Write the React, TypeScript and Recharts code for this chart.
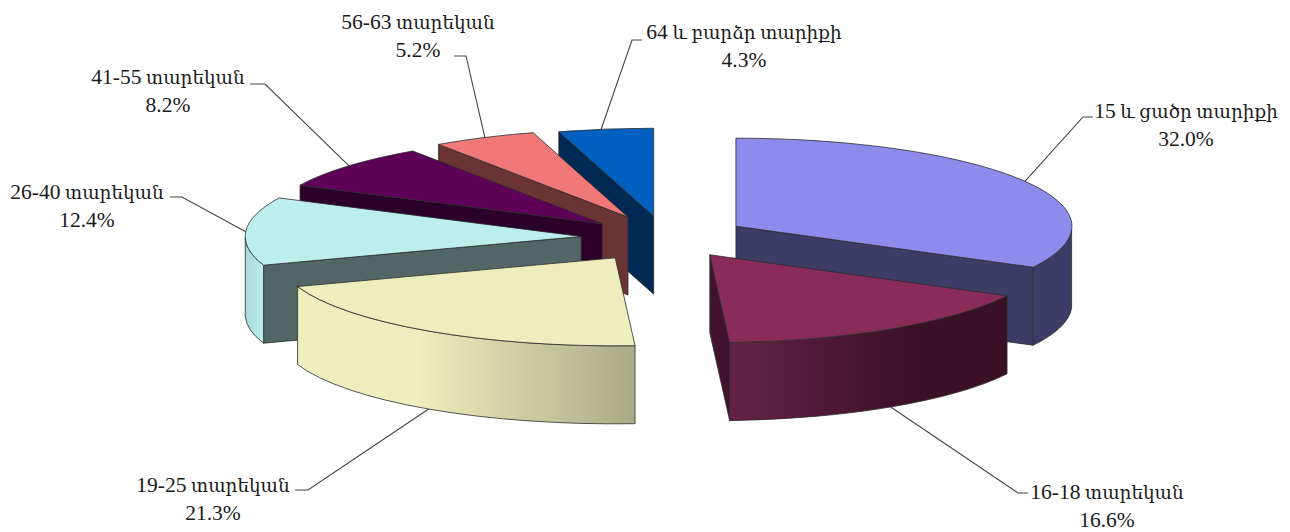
import React from 'react';
import { PieChart, Pie } from 'recharts';

const categories = ['15 և ցածր տարիքի', '16-18 տարեկան', '19-25 տարեկան', '26-40 տարեկան', '41-55 տարեկան', '56-63 տարեկան', '64 և բարձր տարիքի'];
const shares = [32.0, 16.6, 21.3, 12.4, 8.2, 5.2, 4.3];
const explode = [0.25, 0.233, 0.27, 0.25, 0.248, 0.262, 0.25];

const topColors = ['#8d8ced', '#8a2c5a', '#ededbd', '#bceeee', '#5f0058', '#f07878', '#0060c0'];
const sideColors = ['#3c3c66', '#42132c', '#666650', '#526666', '#2b002a', '#6b3434', '#002a54'];
const wallStops = [
  ['#3c3c66', '#3c3c66'],
  ['#652245', '#3a1024'],
  ['#eeeebe', '#aaaa88'],
  ['#a8d8d8', '#bceeee'],
  ['#5f0058', '#5f0058'],
  ['#f07878', '#f07878'],
  ['#0060c0', '#0060c0'],
];

// elbow of the leader, its tail end, text centre, first baseline
const labelLayout = [
  { ex: 1083, ey: 117, tail: 1093, tx: 1186, ty: 118 },
  { ex: 1018, ey: 493, tail: 1028, tx: 1107, ty: 499 },
  { ex: 308, ey: 490, tail: 295, tx: 213, ty: 492 },
  { ex: 182, ey: 197, tail: 170, tx: 87, ty: 199 },
  { ex: 265, ey: 84, tail: 250, tx: 168, ty: 84 },
  { ex: 466, ey: 56, tail: 454, tx: 418, ty: 29 },
  { ex: 632, ey: 40, tail: 642, tx: 744, ty: 39 },
];

const RY = 88;
const DEPTH = 78;
const EDGE = '#2c2c2c';
const FONT = "'Liberation Serif', 'DejaVu Serif', serif";
const LATIN_SIZE = 21.5;
const ARMENIAN_SIZE = 18.4;

// paint order: first slice, then counter-clockwise from the back, so nearer slices overlap
const paintOrder = [0, 6, 5, 4, 3, 2, 1];
const rows = paintOrder.map((i) => ({ name: categories[i], value: shares[i], idx: i }));
const firstAngle = 90 - (shares[0] / 100) * 360;

const rad = (a: number) => (a * Math.PI) / 180;

// clockwise-from-top angle for a library angle, in 0..360
const toClock = (a: number) => ((90 - a) % 360 + 360) % 360;

// the 3D view bends the angles a little
const view = (c: number) =>
  c + 0.7 + 1.9 * Math.sin(rad(c - 25)) + 1.2 * Math.exp(-(((c - 310) / 25) ** 2)) - Math.exp(-(((c - 352) / 10) ** 2));

function rim(cx: number, cy: number, rx: number, clock: number) {
  const v = view(clock);
  return { x: cx + rx * Math.sin(rad(v)), y: cy - RY * Math.cos(rad(v)) };
}

function apexOf(cx: number, cy: number, rx: number, midAngle: number, idx: number) {
  const m = rad(90 - midAngle);
  return { x: cx + rx * explode[idx] * Math.sin(m), y: cy - RY * explode[idx] * Math.cos(m) };
}

function Slice(props: any) {
  const { cx, cy, outerRadius: rx, startAngle, endAngle, index } = props;
  const idx = rows[index].idx;
  const a = Math.min(startAngle, endAngle);
  const b = Math.max(startAngle, endAngle);
  const c1 = toClock(b);
  const c2 = c1 + (b - a);
  const apex = apexOf(cx, cy, rx, (a + b) / 2, idx);
  // exact 0 and 360 stay on the vertical of the apex
  const p1 = c1 === 0 ? { x: apex.x, y: apex.y - RY } : rim(apex.x, apex.y, rx, c1);
  const p2 = c2 >= 359.99 ? { x: apex.x, y: apex.y - RY } : rim(apex.x, apex.y, rx, c2);
  const pm = rim(apex.x, apex.y, rx, (c1 + c2) / 2);

  const walls: React.ReactNode[] = [];
  [p1, p2].forEach((p, k) => {
    const vx = p.x - apex.x;
    const vy = p.y - apex.y;
    let nx = -vy;
    let ny = vx;
    if (nx * (pm.x - apex.x) + ny * (pm.y - apex.y) > 0) {
      nx = -nx;
      ny = -ny;
    }
    if (ny > 0) {
      walls.push(
        <path
          key={k}
          d={`M${apex.x},${apex.y} L${p.x},${p.y} L${p.x},${p.y + DEPTH} L${apex.x},${apex.y + DEPTH} Z`}
          fill={sideColors[idx]}
          stroke={EDGE}
          strokeWidth={0.8}
        />,
      );
    }
  });

  // the outer wall shows only on the near half of the rim
  const w1 = Math.max(c1, 90);
  const w2 = Math.min(c2, 270);
  let outer: React.ReactNode = null;
  if (w2 > w1) {
    const q1 = rim(apex.x, apex.y, rx, w1);
    const q2 = rim(apex.x, apex.y, rx, w2);
    const gid = `wall-${idx}`;
    const left = Math.min(q1.x, q2.x);
    const right = Math.max(q1.x, q2.x);
    outer = (
      <>
        <defs>
          <linearGradient id={gid} gradientUnits="userSpaceOnUse" x1={idx === 2 ? left + 120 : left} x2={idx === 1 ? right - 90 : right} y1={0} y2={0}>
            <stop offset="0%" stopColor={wallStops[idx][0]} />
            <stop offset="100%" stopColor={wallStops[idx][1]} />
          </linearGradient>
        </defs>
        <path
          d={`M${q1.x},${q1.y} A${rx},${RY} 0 0 1 ${q2.x},${q2.y} L${q2.x},${q2.y + DEPTH} A${rx},${RY} 0 0 0 ${q1.x},${q1.y + DEPTH} Z`}
          fill={`url(#${gid})`}
          stroke={EDGE}
          strokeWidth={0.8}
        />
      </>
    );
  }

  return (
    <g>
      {walls}
      {outer}
      <path
        d={`M${apex.x},${apex.y} L${p1.x},${p1.y} A${rx},${RY} 0 0 1 ${p2.x},${p2.y} Z`}
        fill={topColors[idx]}
        stroke={EDGE}
        strokeWidth={0.8}
      />
    </g>
  );
}

function SliceLabel(props: any) {
  const { cx, cy, outerRadius: rx, midAngle, index } = props;
  const idx = rows[index].idx;
  const apex = apexOf(cx, cy, rx, midAngle, idx);
  const m = toClock(midAngle);
  const s = rim(apex.x, apex.y, rx, m);
  const startY = m > 90 && m < 270 ? s.y + DEPTH : s.y;
  const l = labelLayout[idx];
  // digits are set larger than the Armenian, as the two come from different faces
  const head = categories[idx].match(/^[\d-]+/)?.[0] ?? '';
  const rest = categories[idx].slice(head.length);
  return (
    <g>
      <polyline points={`${s.x},${startY} ${l.ex},${l.ey} ${l.tail},${l.ey}`} fill="none" stroke="#444" strokeWidth={1.1} />
      <text x={l.tx} y={l.ty} textAnchor="middle" fill="#1a1a1a" fontFamily={FONT}>
        <tspan fontSize={LATIN_SIZE}>{head}</tspan>
        <tspan fontSize={ARMENIAN_SIZE}>{rest}</tspan>
      </text>
      <text x={l.tx} y={l.ty + 28} textAnchor="middle" fontSize={LATIN_SIZE} fill="#1a1a1a" fontFamily={FONT}>
        {shares[idx].toFixed(1)}%
      </text>
    </g>
  );
}

export default function App() {
  return (
    <div style={{ position: 'absolute', left: 0, top: 0, width: 1290, height: 532, background: '#fff' }}>
      <PieChart width={1290} height={532} margin={{ top: 0, right: 0, bottom: 0, left: 0 }}>
        <Pie
          data={rows}
          dataKey="value"
          nameKey="name"
          cx={665}
          cy={238}
          innerRadius={0}
          outerRadius={336}
          startAngle={firstAngle}
          endAngle={firstAngle + 360}
          paddingAngle={0}
          shape={Slice}
          label={SliceLabel}
          labelLine={false}
          isAnimationActive={false}
        />
      </PieChart>
    </div>
  );
}
